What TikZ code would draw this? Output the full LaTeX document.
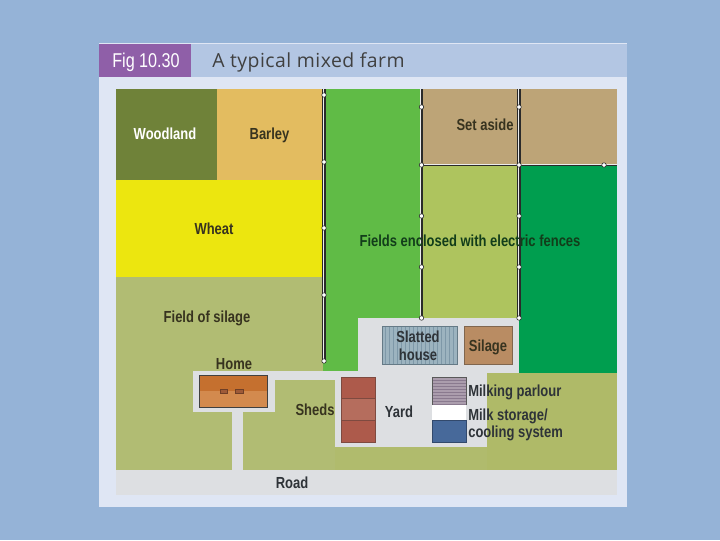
\documentclass[tikz,border=0pt]{standalone}
\usepackage{fontspec}
\setmainfont{Liberation Sans}
\newfontfamily\narrowfont[FakeStretch=0.81]{Liberation Sans}
\newfontfamily\titlefont[LetterSpace=2.5]{Open Sans}
\usepackage{tikz}
\usetikzlibrary{positioning}
\definecolor{pagebg}{HTML}{95B3D7}
\definecolor{panelbg}{HTML}{DFE6F4}
\definecolor{headbg}{HTML}{B3C6E3}
\definecolor{figbg}{HTML}{8F5FA8}
\definecolor{woodcol}{HTML}{6F8239}
\definecolor{barleycol}{HTML}{E3BC60}
\definecolor{wheatcol}{HTML}{ECE60F}
\definecolor{silagecol}{HTML}{B1BC73}
\definecolor{lowercol}{HTML}{AFBA68}
\definecolor{brightcol}{HTML}{60BB46}
\definecolor{asidecol}{HTML}{BDA477}
\definecolor{limecol}{HTML}{AEC45E}
\definecolor{darkcol}{HTML}{009E4F}
\definecolor{greycol}{HTML}{DDDFE2}
\definecolor{labelcol}{HTML}{37331F}
\definecolor{bluelabcol}{HTML}{2E3338}
\definecolor{fieldlabcol}{HTML}{123D1A}
\definecolor{fencecol}{HTML}{2A2A2A}
\definecolor{roofacol}{HTML}{C5702F}
\definecolor{roofbcol}{HTML}{D38A4E}
\definecolor{chimneycol}{HTML}{9E5A38}
\definecolor{shedacol}{HTML}{AD5A4B}
\definecolor{shedbcol}{HTML}{B56D5D}
\definecolor{shededge}{HTML}{7E4A40}
\definecolor{slatcol}{HTML}{9CB3BF}
\definecolor{slatline}{HTML}{7E98A8}
\definecolor{clampcol}{HTML}{B98C63}
\definecolor{clampedge}{HTML}{80664E}
\definecolor{parlourcol}{HTML}{AB9DAD}
\definecolor{parlourline}{HTML}{8A7A8F}
\definecolor{storecol}{HTML}{47699A}
\tikzstyle{lab}=[inner sep=0pt,font=\narrowfont\bfseries\fontsize{11.4}{13}\selectfont,text=labelcol,align=center]
\tikzstyle{sidelab}=[lab,anchor=west,align=left,text=bluelabcol]
\tikzstyle{fence}=[draw=fencecol,line width=2.2pt]
\tikzstyle{fenceline}=[draw=white!85!gray,line width=0.7pt]
\tikzstyle{post}=[circle,draw=fencecol,fill=white,line width=0.4pt,inner sep=0pt,minimum size=3.2pt]
\begin{document}
\begin{tikzpicture}[x=0.025cm,y=-0.025cm]
\useasboundingbox (0,0) rectangle (720,540);
\fill[pagebg] (0,0) rectangle (720,540);
% panel and heading
\fill[panelbg] (99,43) rectangle (627,507);
\fill[headbg] (99,44) rectangle (627,77);
\fill[figbg] (99,44) rectangle (191,77);
\node[inner sep=0pt,anchor=base,text=white,font=\narrowfont\fontsize{14.2}{16}\selectfont] (fig) at (146,67) {Fig 10.30};
\node[inner sep=0pt,anchor=base west,text=black!75,font=\titlefont\fontsize{13.8}{16}\selectfont] (title) at (212,67) {A typical mixed farm};
% fields
\fill[woodcol] (116,89) rectangle (217,180);
\fill[barleycol] (217,89) rectangle (323,180);
\fill[wheatcol] (116,180) rectangle (323,277);
\fill[silagecol] (116,277) rectangle (323,470);
\fill[silagecol] (323,361) rectangle (358,470);
\fill[brightcol] (323,89) rectangle (421,371);
\fill[asidecol] (421,89) rectangle (617,165);
\fill[limecol] (421,165) rectangle (519,320);
\fill[darkcol] (519,165) rectangle (617,373);
\fill[lowercol] (487,373) rectangle (617,470);
\fill[silagecol!50!lowercol] (335,447) rectangle (487,470);
% tracks and yard
\fill[greycol] (116,470) rectangle (617,495);
\fill[greycol] (232,412) rectangle (243,470);
\fill[greycol] (193,371) rectangle (275,412);
\fill[greycol] (275,371) rectangle (358,380);
\fill[greycol] (335,380) rectangle (487,447);
\fill[greycol] (358,318) rectangle (519,373);
\fill[greycol] (358,373) rectangle (487,380);
% home
\fill[roofacol] (199,375) rectangle (267,391);
\fill[roofbcol] (199,391) rectangle (267,407);
\draw[black!75,line width=0.5pt] (199,375) rectangle (267,407);
\fill[chimneycol,draw=chimneycol!70!black,line width=0.3pt] (220,389) rectangle (227,393);
\fill[chimneycol,draw=chimneycol!70!black,line width=0.3pt] (235,389) rectangle (243,393);
% sheds
\fill[shedacol] (341,377) rectangle (375,398);
\fill[shedbcol] (341,398) rectangle (375,420);
\fill[shedacol] (341,420) rectangle (375,442);
\draw[shededge,line width=0.4pt] (341,377) rectangle (375,442) (341,398) -- (375,398) (341,420) -- (375,420);
% slatted house
\fill[slatcol] (382,326) rectangle (457,364);
\foreach \x in {385,389,...,455}
  \draw[slatline,line width=0.3pt] (\x,326) -- (\x,364);
\draw[slatline!80!black,line width=0.5pt] (382,326) rectangle (457,364);
% silage clamp
\fill[clampcol] (464,326) rectangle (512,364);
\draw[clampedge,line width=0.5pt] (464,326) rectangle (512,364);
% milking parlour and storage
\fill[parlourcol] (432,377) rectangle (466,405);
\foreach \y in {380,383,...,404}
  \draw[parlourline,line width=0.3pt] (432,\y) -- (466,\y);
\fill[white] (432,405) rectangle (466,420);
\fill[storecol] (432,420) rectangle (466,442);
\draw[gray!70!black,line width=0.4pt] (432,405) -- (432,377) -- (466,377) -- (466,405);
\draw[storecol!70!black,line width=0.4pt] (432,420) rectangle (466,442);
% fences
\coordinate (f1t) at (324,89);
\coordinate (f1b) at (324,361);
\coordinate (f2t) at (421.5,89);
\coordinate (f2b) at (421.5,318);
\coordinate (f3t) at (519,89);
\coordinate (f3b) at (519,318);
\coordinate (f4l) at (421.5,165);
\coordinate (f4r) at (617,165);
\foreach \a/\b in {f1t/f1b,f2t/f2b,f3t/f3b} {
  \draw[fence] (\a) -- (\b);
  \draw[fenceline] ([xshift=-0.4pt]\a) -- ([xshift=-0.4pt]\b);
}
\draw[fence,line width=1.6pt] (f4l) -- (f4r);
\draw[fenceline,line width=0.5pt] ([yshift=0.2pt]f4l) -- ([yshift=0.2pt]f4r);
\foreach \y in {95,162,228,295,361}
  \node[post] at (324,\y) {};
\foreach \y in {107,165,216,267,318} {
  \node[post] at (421.5,\y) {};
  \node[post] at (519,\y) {};
}
\node[post] at (604,165) {};
% labels
\node[lab,text=white] (wood) at (165,133.5) {Woodland};
\node[lab] (barley) at (269.5,135) {Barley};
\node[lab] (wheat) at (214,229) {Wheat};
\node[lab] (aside) at (485,125) {Set aside};
\node[lab,text=fieldlabcol] (fields) at (470,240.5) {Fields enclosed with electric fences};
\node[lab] (silfield) at (207,318) {Field of silage};
\node[lab] (home) at (234,364.5) {Home};
\node[lab,text=bluelabcol,text width=60pt] (slat) at (418,345.5) {Slatted\\[-0.5pt]house};
\node[lab] (silage) at (488,347) {Silage};
\node[lab] (sheds) at (315,410) {Sheds};
\node[lab,text=bluelabcol] (yard) at (399,412) {Yard};
\node[sidelab] (parlour) at (468,392) {Milking parlour};
\node[sidelab] (store) at (468,425) {Milk storage/\\[-0.5pt]cooling system};
\node[lab,text=bluelabcol] (road) at (292,483) {Road};
\end{tikzpicture}
\end{document}
